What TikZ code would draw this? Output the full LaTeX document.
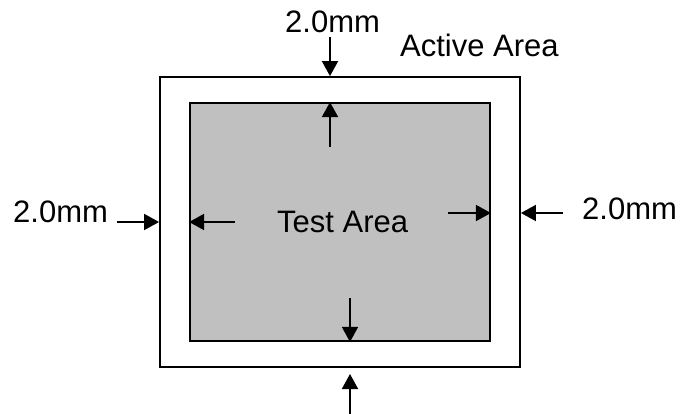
\documentclass[tikz,border=0pt]{standalone}
\usepackage{fontspec}
\setmainfont{Liberation Sans}
\usetikzlibrary{arrows.meta}
\definecolor{testgray}{HTML}{C0C0C0}

\begin{document}
\begin{tikzpicture}
        [x=1pt, y=-1pt, font=\fontsize{31}{37}\selectfont,
        activebox/.style={draw, line width=1.8pt, minimum width=360pt, minimum height=290pt, inner sep=0pt},
        testbox/.style={draw, fill=testgray, line width=1.8pt, minimum width=300pt, minimum height=238pt, inner sep=0pt},
        dimarrow/.style={line width=1.8pt, -{Triangle[length=15pt, width=16pt]}},
        dimlabel/.style={inner sep=0pt, anchor=base west}]

        \useasboundingbox (0,0) rectangle (680,414);

        % the two areas
        \node[activebox] (active) at (340,222) {};
        \node[testbox] (test) at (340,222) {};

        % labels
        \node[dimlabel] (toplabel) at (285,33) {2.0mm};
        \node[dimlabel] (activelabel) at (400,57) {Active Area};
        \node[dimlabel] (testlabel) at (277,233) {Test Area};
        \node[dimlabel] (leftlabel) at (13,223) {2.0mm};
        \node[dimlabel] (rightlabel) at (582,220) {2.0mm};

        % arrow tails
        \coordinate (topout) at (330,37);
        \coordinate (topin) at (330,147);
        \coordinate (botin) at (350,298);
        \coordinate (botout) at (350,414);
        \coordinate (botouttip) at (350,374);
        \coordinate (leftout) at (117,222);
        \coordinate (leftin) at (235,222);
        \coordinate (rightin) at (448,213);
        \coordinate (rightout) at (563,213);

        % dimension arrows
        \draw[dimarrow] (topout) -- (topout |- active.north);
        \draw[dimarrow] (topin) -- (topin |- test.north);
        \draw[dimarrow] (botin) -- (botin |- test.south);
        \draw[dimarrow] (botout) -- (botouttip);
        \draw[dimarrow] (leftout) -- (leftout -| active.west);
        \draw[dimarrow] (leftin) -- (leftin -| test.west);
        \draw[dimarrow] (rightin) -- (rightin -| test.east);
        \draw[dimarrow] (rightout) -- (rightout -| active.east);

\end{tikzpicture}
\end{document}
